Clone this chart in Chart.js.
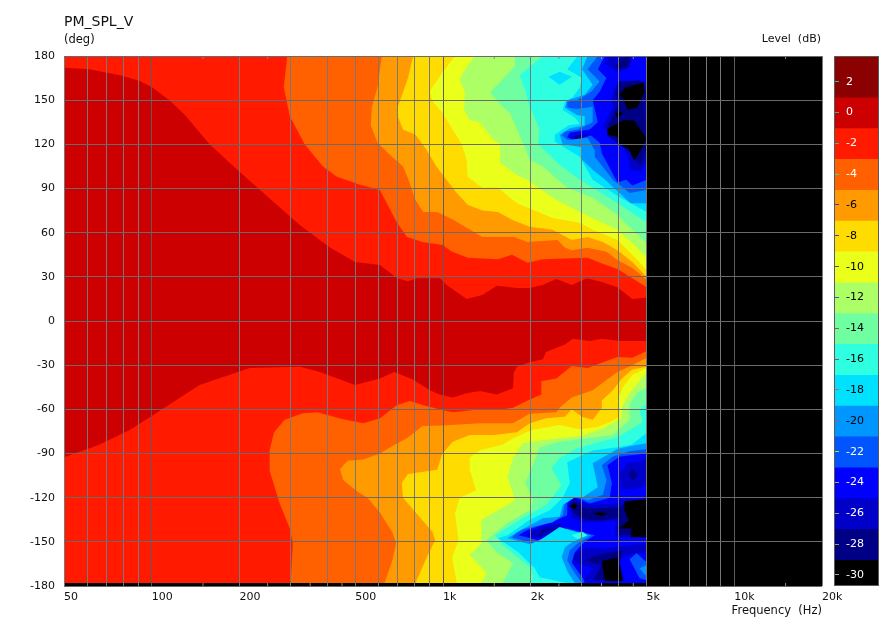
<!DOCTYPE html>
<html>
<head>
<meta charset="utf-8">
<title>PM_SPL_V</title>
<script src="https://cdn.jsdelivr.net/npm/chart.js@4"></script>
<style>
    html, body { margin: 0; padding: 0; background: #fff; }
    body { width: 892px; height: 621px; position: relative; overflow: hidden; }
    #plot { position: absolute; left: 0; top: 0; }
    #barBox { position: absolute; left: 834px; top: 56px; width: 43px; height: 528px; border: 1px solid #5a5a5a; }
    .note { position: absolute; font: 11px "DejaVu Sans", sans-serif; color: #111; white-space: pre; line-height: 14px; }
</style>
</head>
<body>
<canvas id="plot" width="892" height="621"></canvas>
<div id="barBox"><canvas id="colorBar" width="43" height="528"></canvas></div>
<div class="note" style="left:64px;top:14px;font-size:14px;">PM_SPL_V</div>
<div class="note" style="left:64px;top:32px;font-size:11.5px;">(deg)</div>
<div class="note" style="right:71px;top:32px;">Level  (dB)</div>
<script>
// axis values
const gridFreqs = [50, 60, 70, 80, 90, 100, 200, 300, 400, 500, 600, 700, 800, 900, 1000, 2000, 3000, 4000, 5000, 6000, 7000, 8000, 9000, 10000, 20000];
const freqLabels = { 50: '50', 100: '100', 200: '200', 500: '500', 1000: '1k', 2000: '2k', 5000: '5k', 10000: '10k', 20000: '20k' };
const smallTickFreqs = [150, 250, 350, 450, 1500, 2500, 3500, 4500, 15000];
const angleTicks = [-180, -150, -120, -90, -60, -30, 0, 30, 60, 90, 120, 150, 180];

// colour scale, top to bottom
const levels = [2, 0, -2, -4, -6, -8, -10, -12, -14, -16, -18, -20, -22, -24, -26, -28, -30];
const levelColors = ['#8b0000', '#cc0000', '#ff1a00', '#ff6000', '#ff9b00', '#ffdc00', '#eaff1a', '#acff64', '#6fffa0', '#2dffe0', '#00e0ff', '#0096ff', '#0055ff', '#0000ff', '#0000c8', '#000087', '#000000'];
const levelTextColors = ['#fff', '#fff', '#fff', '#fff', '#000', '#000', '#000', '#000', '#000', '#000', '#000', '#000', '#fff', '#fff', '#fff', '#fff', '#fff'];
const levelTickColors = ['#20c0c0', '#30b0a0', '#20c0b0', '#40d0a0', '#4040c0', '#4040c0', '#505060', '#1060e0', '#b05030', '#a05040', '#c07040', '#c05040', '#b0e030', '#b0b060', '#a0a0a0', '#b0a020', '#a0a0a0'];

// contour lines as [frequency Hz, angle deg], top of the plot round to the bottom
const contourM1 = [[50,172],[61,171],[78,167],[91,163],[100,159],[115,150],[130,140],[158,120],[201,101],[258,82],[323,65],[409,50],[499,40],[607,38],[696,29],[758,27],[813,29],[975,29],[1030,24.5],[1205,15],[1365,17.7],[1530,24],[1795,22.5],[1985,22.5],[2200,24.5],[2450,28.6],[2765,24.5],[3120,29],[3510,26.5],[3970,23],[4465,15],[5000,16],
    [5000,-13.6],[4040,-13.6],[3510,-12],[3190,-13.6],[2790,-12],[2620,-16],[2260,-21],[2200,-26],[1985,-28],[1795,-31],[1750,-35],[1740,-45.6],[1530,-50],[1340,-47.6],[1205,-49],[1080,-52],[975,-50],[901,-47],[785,-39.5],[680,-34.7],[607,-39],[499,-43.5],[378,-34.7],[323,-31],[217,-32],[146,-43.5],[100,-64.6],[84,-74],[66,-84],[50,-92.5]];
const contourM3 = [[292,180],[284,159],[298,139],[335,120],[387,105],[432,98],[519,92.5],[607,89],[696,66.6],[752,57],[850,53.7],[995,51.7],[1075,47],[1215,43],[1545,42],[1725,45],[1950,39.5],[2200,42],[3135,43],[3510,39],[3970,35.4],[4465,29],[5000,23],
    [5000,-20.4],[4465,-25],[3970,-24.5],[3135,-32],[2765,-30.6],[2450,-39],[2175,-41],[2175,-50],[1950,-54],[1740,-59],[1530,-60.5],[1340,-60],[1080,-62],[995,-60.5],[850,-57],[770,-54.4],[696,-57],[607,-66],[533,-69.4],[454,-66.7],[370,-62],[330,-62.6],[286,-67],[263,-75.5],[254,-88],[254,-101.7],[275,-124],[298,-141],[305,-151],[300,-178]];
const contourM5 = [[617,180],[596,159],[570,145.6],[565,133],[596,121],[657,113],[729,105],[758,97],[783,89],[805,82],[855,74],[955,74],[1080,69],[1365,57],[1755,57],[1950,53.7],[2470,55],[2620,50],[2765,48],[3135,49.7],[3640,47],[3970,41.5],[4465,36],[5000,28],
    [5000,-25],[4465,-30],[3970,-34.7],[3640,-40],[3265,-47],[2765,-52],[2515,-59],[2450,-62],[1985,-63],[1740,-69.4],[1340,-69.4],[995,-71],[850,-71.4],[752,-79.6],[696,-83],[607,-90],[533,-94],[470,-95],[443,-100.7],[454,-108],[509,-116],[550,-120],[607,-130],[670,-143.5],[690,-151],[670,-162.6],[630,-178]];
const contourM7 = [[790,180],[758,165],[700,145.6],[696,140],[729,130],[805,126.5],[880,116],[950,105],[1040,94.6],[1115,87],[1215,79],[1365,75],[1545,74],[1725,68.7],[1985,64],[2380,62],[2765,55],[3135,57],[3540,53.7],[3970,48],[4465,40],[5000,30],
    [5000,-31],[4465,-33],[4110,-39],[3830,-47],[3510,-54],[3510,-59],[3265,-67],[3000,-65],[2765,-60],[2620,-65],[2260,-66],[1985,-69.4],[1795,-75.5],[1490,-77.5],[1235,-77.5],[1080,-82],[995,-90],[955,-101],[758,-104],[722,-110],[729,-120],[813,-131],[922,-143.5],[940,-149],[880,-160.5],[805,-178]];
const contourM9 = [[1100,180],[995,169],[901,156],[922,149],[995,141.5],[1160,120],[1205,109.5],[1215,98],[1365,90.5],[1545,90.5],[1795,80],[2380,70],[2945,66.7],[3265,62],[3970,55],[4465,45],[5000,34.7],
    [5000,-32],[4465,-36.7],[4145,-45],[3970,-54],[4040,-65],[3735,-68.7],[3370,-72],[2945,-73.5],[2515,-70.7],[2020,-74],[1740,-79.6],[1600,-84],[1340,-87.8],[1235,-92.5],[1235,-101],[1300,-115],[1140,-120],[1115,-127],[1100,-130.6],[1130,-149],[1075,-160.5],[1115,-178]];
const contourM11 = [[1285,180],[1190,171],[1140,164],[1190,155],[1180,143.5],[1235,136.7],[1340,134.7],[1490,123],[1570,120],[1570,107.5],[1795,99],[1950,96],[2380,83.7],[2945,74],[3970,62],[4465,53],[5000,43],
    [5000,-35],[4370,-49],[4110,-58.5],[4110,-66],[3540,-73],[3000,-78],[2175,-81],[1880,-83],[1740,-93],[1665,-106],[1770,-122],[1355,-135],[1355,-151],[1235,-159],[1410,-171],[1355,-178]];
const contourM13 = [[1765,180],[1765,173],[1450,155],[1600,145.6],[1695,141.5],[1880,121],[1985,109.5],[2200,105],[2670,90.5],[3265,83.7],[3970,72],[4465,62],[5000,53],
    [5000,-45],[4620,-49],[4370,-57],[4370,-67],[3830,-77.5],[2515,-82],[2150,-85.7],[1915,-110],[2040,-122],[1985,-128.6],[1665,-137],[1410,-149],[1530,-157],[1740,-164.6],[1600,-178]];
const contourM15 = [[2200,180],[1835,167],[1915,157],[1985,145.6],[2150,130],[2120,120],[2515,106],[2900,97],[3265,90.5],[3970,80],[5000,67],
    [5000,-56],[4730,-60.5],[4840,-68.7],[3970,-79],[2880,-86.4],[2515,-93],[2360,-100],[2555,-111.6],[2260,-125],[1950,-132],[1510,-145.6],[1600,-152],[1985,-167],[2040,-174],[1985,-178]];
const contourM17 = [[2900,180],[2670,171],[3000,165],[2945,158.5],[2790,152],[2620,149],[2575,143.5],[2840,138],[2945,134],[2700,133],[2420,126.5],[2420,122],[2945,111.6],[3265,96],[4040,84],[5000,74],
    [5000,-76],[4440,-84],[3970,-85.7],[3265,-88],[2670,-96],[2725,-110],[2575,-120],[2325,-128.6],[1985,-135],[1665,-145.6],[1545,-147.6],[1815,-157],[2065,-168],[2150,-174],[2670,-178]];
const contourM19 = [[3135,180],[3000,171],[3265,160.5],[3065,153.7],[2670,150],[2620,145],[2880,140],[3065,139],[3065,133],[2725,131],[2515,126.5],[2575,120],[3000,118],[3000,109.5],[3265,102.7],[3600,96],[4405,80],[5000,80],
    [5000,-83],[4370,-85],[3970,-87],[3265,-96.6],[3400,-113],[3000,-120],[2840,-119.7],[2575,-125],[2515,-133],[2200,-134],[1795,-143.5],[1665,-147.6],[1985,-151.7],[2150,-149],[2515,-140],[3135,-145.6],[2790,-150],[2620,-153.7],[2555,-160.5],[2685,-170.8],[2835,-178]];
const contourM21 = [[3400,180],[3135,171],[3450,162.6],[3225,155.8],[2880,150],[2670,149],[2670,145],[2880,144],[3265,145.6],[3265,135],[2900,130],[2620,128.6],[2555,126],[2685,123],[3135,124.5],[3320,116],[3320,111.6],[3830,96],[4370,87],[5000,89],
    [5000,-87],[4370,-88.4],[3830,-92],[3510,-98],[3640,-108],[3540,-118],[3135,-122],[2765,-118],[2620,-123],[2575,-132],[2380,-136.7],[1835,-142],[1725,-147],[2020,-151],[2240,-147.6],[2575,-142],[3225,-145.6],[2900,-151],[2725,-155.8],[2670,-162.6],[2835,-171.4],[3000,-178]];
const contourM23 = [[3595,180],[3400,171],[3640,165],[3450,155.8],[3265,150],[3400,135],[3190,130],[2725,128],[2670,125],[2820,122.5],[3225,126],[3450,121],[3510,114],[3970,94],[4255,96],[4465,92],[5000,96],
    [5000,-90],[4040,-92],[3670,-98],[3800,-110],[3735,-120],[3190,-124],[2900,-120.4],[2765,-119.7],[2670,-124],[2670,-132],[2470,-135],[1950,-142],[1815,-145.6],[2120,-149],[2670,-141],[3320,-145.6],[3065,-150],[2835,-157],[2765,-164],[3030,-175],[3065,-178]];

// closed patches in the blue area, upper lobe
const patchUpperA = [[3735,180],[3595,175],[3970,169],[4370,172.6],[4440,180]];
const patchUpperACore = [[4040,178],[3905,172],[4255,171],[4405,176],[4335,179.6]];
const patchUpperB = [[3970,162.6],[3800,152.7],[3830,145.6],[3735,140.9],[3540,132.6],[3670,128.5],[3970,121.9],[4195,117],[4335,109.5],[4405,102.7],[4800,101.6],[5000,107.6],[5000,162.6],[4300,163.3]];
const patchUpperBCore = [[4040,162.6],[3905,155.8],[3970,146.3],[3860,140.9],[3670,132],[3670,125.8],[4040,119.7],[4475,114],[4650,107.6],[4800,106.3],[5000,116.3],[5000,127],[4920,142.9],[5000,155.8],[4770,163.3]];
const patchUpperBlackA = [[4040,153.7],[4200,158.5],[4885,162],[4925,155.8],[4650,145],[4300,143.5],[4195,148.9]];
const patchUpperBlackB = [[3670,130.6],[4195,136.7],[4540,136],[4800,129.2],[4990,123.8],[4800,116.9],[4540,108.8],[4335,116.9],[4040,119.7],[3970,125.2],[3670,126.5]];
const patchUpperBlackC = [[3905,140.9],[4040,142.2],[4145,140.9],[3970,138.2]];
const patchUpperSpot = [[2725,125.2],[2950,126.5],[3190,127.2],[2975,123.8]];
const patchUpperSpotCore = [[2790,125.2],[2880,126.5],[2975,125.2],[2880,123.1]];
const patchUpperCyan = [[2300,165.9],[2515,169.3],[2770,165.9],[2515,160.5]];

// closed patches in the blue area, lower lobe
const patchLowerA = [[4040,-103],[4335,-96.2],[4770,-95.6],[5000,-92.5],[5000,-112.2],[4475,-114.2],[4110,-114.2]];
const patchLowerACore = [[4335,-104.4],[4475,-100.3],[4650,-104.4],[4475,-108.5]];
const patchLowerMass = [[2820,-119.7],[2700,-125],[2765,-133.4],[3030,-136.7],[3450,-136.7],[3905,-135.4],[3905,-146.9],[5000,-146.9],[5000,-120.4],[4040,-121],[3970,-123.8],[3320,-125],[3000,-123.8]];
const patchLowerMassCore = [[2820,-121],[2725,-125.8],[2835,-131.3],[3130,-135.4],[3540,-135.4],[4040,-133.4],[3970,-140.9],[4040,-145.6],[5000,-145.6],[5000,-121.6],[4300,-122.4],[4040,-126.5],[3400,-127.2],[3030,-127.2],[2900,-123.8]];
const patchLowerBlackA = [[2820,-123.8],[2725,-125.8],[2820,-127.9],[2900,-125.8]];
const patchLowerBlackB = [[3265,-130.6],[3450,-129.9],[3670,-130.6],[3510,-132.6]];
const patchLowerBlackC = [[4195,-122.4],[5000,-121],[5000,-146.9],[4405,-146.9],[4440,-140.9],[4040,-140.9],[3905,-143.5],[4335,-135.4],[4195,-128.6]];
const patchLowerArm = [[1915,-145.6],[2150,-140.2],[2515,-137.4],[2575,-140.2],[2260,-145.6],[2050,-147.6]];
const patchLowerArmCore = [[2120,-145.6],[2200,-141.6],[2470,-140.2],[2200,-143.5],[2175,-147]];
const patchLowerBase = [[3065,-154.4],[3640,-154.4],[5000,-151],[5000,-157.8],[4570,-157.8],[4145,-160.5],[4040,-163.9],[4200,-176.1],[3030,-176.1],[3290,-167.9],[2850,-164.6],[2765,-159.2]];
const patchLowerBaseCore = [[3320,-159.2],[3735,-157.1],[4145,-155.8],[4040,-162.6],[4145,-176.1],[3290,-176.1],[3510,-165.9],[3065,-162.6]];
const patchLowerBlack = [[3510,-163.2],[3970,-160.5],[4145,-176.8],[3600,-176.8]];
const patchLowerLight = [[4370,-161.9],[4620,-157.8],[5000,-163.9],[5000,-176.1],[4730,-174.8]];
const patchLowerLightCore = [[4730,-167.9],[5000,-165.9],[5000,-173.4],[4885,-171.4]];
const patchTongueCore = [[2765,-145.6],[3000,-142.9],[3135,-145.6],[2900,-148.3]];

const plotOutline = [[50, -180], [20000, -180], [20000, 180], [50, 180]];
const dataOutline = [[50, -178], [5000, -178], [5000, 180], [50, 180]];

const leftClose = (line) => [[50, 180], ...line, [50, -178]];

// painted in this order, deepest first
const layers = [
    [plotOutline, '#000000'],
    [dataOutline, '#0000ff'],
    [patchUpperA, '#0000c8'],
    [patchUpperACore, '#000087'],
    [patchUpperB, '#0000c8'],
    [patchUpperBCore, '#000087'],
    [patchUpperBlackA, '#000000'],
    [patchUpperBlackB, '#000000'],
    [patchUpperBlackC, '#000000'],
    [patchUpperSpot, '#0000c8'],
    [patchUpperSpotCore, '#000087'],
    [patchLowerA, '#0000c8'],
    [patchLowerACore, '#000087'],
    [patchLowerMass, '#0000c8'],
    [patchLowerMassCore, '#000087'],
    [patchLowerBlackA, '#000000'],
    [patchLowerBlackB, '#000000'],
    [patchLowerBlackC, '#000000'],
    [patchLowerArm, '#0000c8'],
    [patchLowerArmCore, '#000087'],
    [patchLowerBase, '#0000c8'],
    [patchLowerBaseCore, '#000087'],
    [patchLowerBlack, '#000000'],
    [patchLowerLight, '#0055ff'],
    [patchLowerLightCore, '#0096ff'],
    [leftClose(contourM23), '#0055ff'],
    [leftClose(contourM21), '#0096ff'],
    [leftClose(contourM19), '#00e0ff'],
    [patchTongueCore, '#2dffe0'],
    [leftClose(contourM17), '#2dffe0'],
    [patchUpperCyan, '#00e0ff'],
    [leftClose(contourM15), '#6fffa0'],
    [leftClose(contourM13), '#acff64'],
    [leftClose(contourM11), '#eaff1a'],
    [leftClose(contourM9), '#ffdc00'],
    [leftClose(contourM7), '#ff9b00'],
    [leftClose(contourM5), '#ff6000'],
    [leftClose(contourM3), '#ff1a00'],
    [contourM1, '#cc0000']
];

const tickFont = { family: '"DejaVu Sans", sans-serif', size: 11 };

function drawPlot() {
    const datasets = layers.map(([outline, color], i) => ({
        data: outline,
        showLine: true,
        fill: 'shape',
        backgroundColor: color,
        borderWidth: 0,
        borderDash: [1, 0],
        pointRadius: 0,
        order: layers.length - i + 1
    }));

    // little marks between the grid lines, top and bottom edge
    datasets.push({
        data: smallTickFreqs.flatMap(f => [[f, 180], [f, -180]]),
        showLine: false,
        pointStyle: 'line',
        rotation: 90,
        pointRadius: 3,
        borderWidth: 1,
        borderColor: '#8a8a8a',
        backgroundColor: '#8a8a8a',
        order: 0
    });

    new Chart(document.getElementById('plot'), {
        type: 'scatter',
        data: { datasets },
        options: {
            responsive: false,
            animation: false,
            layout: { padding: { top: 56, right: 70 } },
            plugins: { legend: { display: false }, tooltip: { enabled: false } },
            scales: {
                x: {
                    type: 'logarithmic',
                    min: 50,
                    max: 20000,
                    afterBuildTicks: scale => { scale.ticks = gridFreqs.map(value => ({ value })); },
                    afterFit: scale => { scale.height = 35; },
                    grid: {
                        z: 1,
                        drawTicks: false,
                        lineWidth: 1,
                        color: ctx => ([100, 1000, 10000].includes(ctx.tick.value) ? '#5c5c5c' : '#787878')
                    },
                    border: { display: false },
                    ticks: {
                        autoSkip: false,
                        maxRotation: 0,
                        align: 'start',
                        padding: 5,
                        color: '#111',
                        font: tickFont,
                        callback: value => freqLabels[value] || ''
                    },
                    title: {
                        display: true,
                        text: 'Frequency  (Hz)',
                        align: 'end',
                        color: '#111',
                        font: { family: tickFont.family, size: 11.5 },
                        padding: { top: 0, bottom: 3 }
                    }
                },
                y: {
                    min: -180,
                    max: 180,
                    afterBuildTicks: scale => { scale.ticks = angleTicks.map(value => ({ value })); },
                    afterFit: scale => { scale.width = 64; },
                    grid: { z: 1, drawTicks: false, lineWidth: 1, color: '#6a6a6a' },
                    border: { display: false },
                    ticks: { padding: 9, color: '#111', font: tickFont }
                }
            }
        }
    });
}

function drawColorBar() {
    const edges = [3.6, 1, -1, -3, -5, -7, -9, -11, -13, -15, -17, -19, -21, -23, -25, -27, -29, -30.65];
    const datasets = levels.map((level, i) => ({
        data: [[edges[i + 1], edges[i]]],
        backgroundColor: levelColors[i],
        borderWidth: 0,
        grouped: false,
        barPercentage: 1,
        categoryPercentage: 1
    }));

    new Chart(document.getElementById('colorBar'), {
        type: 'bar',
        data: { labels: ['Level'], datasets },
        options: {
            responsive: false,
            animation: false,
            layout: { autoPadding: false },
            plugins: { legend: { display: false }, tooltip: { enabled: false } },
            scales: {
                x: { display: false },
                y: {
                    min: -30.65,
                    max: 3.6,
                    afterBuildTicks: scale => { scale.ticks = levels.map(value => ({ value })); },
                    afterFit: scale => {
                        // no room kept for the mirrored labels, the bar fills the box
                        scale.width = 0;
                        scale.paddingTop = 0;
                        scale.paddingBottom = 0;
                    },
                    grid: {
                        z: 1,
                        drawOnChartArea: false,
                        tickLength: -4,
                        color: levelTickColors
                    },
                    border: { display: false },
                    ticks: {
                        z: 1,
                        mirror: true,
                        padding: 11,
                        font: tickFont,
                        color: levelTextColors
                    }
                }
            }
        }
    });
}

document.addEventListener('DOMContentLoaded', function() {
    drawPlot();
    drawColorBar();
});
</script>
</body>
</html>
